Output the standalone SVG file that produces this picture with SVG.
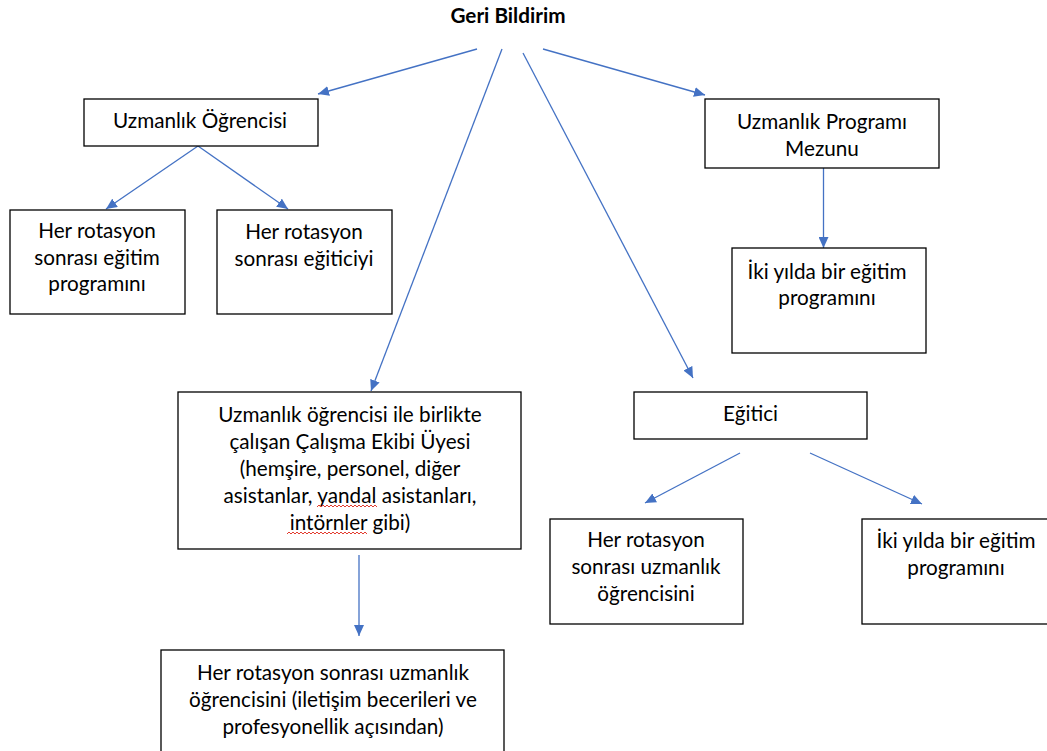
<svg xmlns="http://www.w3.org/2000/svg" width="1047" height="751" viewBox="0 0 1047 751">
<style>
.box{fill:#fff;stroke:#000;stroke-width:1.3}
.t{font-family:Lato,"Open Sans","Liberation Sans",sans-serif;font-size:20.7px;fill:#000;text-anchor:middle}
.title{font-weight:bold}
.c{stroke:#4472C4;stroke-width:1.3;fill:none}
.wave{stroke:#e23b2e;stroke-width:1;fill:none}
</style>
<defs>
<marker id="ah" markerUnits="userSpaceOnUse" markerWidth="12" markerHeight="10" refX="11" refY="5" orient="auto">
<path d="M0,0 L11,5 L0,10 Z" fill="#4472C4"/>
</marker>
</defs>
<rect width="1047" height="751" fill="#fff"/>
<g id="title"><text class="t title" x="508" y="23">Geri Bildirim</text></g>
<g id="connectors">
<line class="c" x1="477" y1="49" x2="318" y2="94" marker-end="url(#ah)"/>
<line class="c" x1="502" y1="49" x2="371" y2="391" marker-end="url(#ah)"/>
<line class="c" x1="523" y1="53" x2="693" y2="378" marker-end="url(#ah)"/>
<line class="c" x1="543" y1="49" x2="705" y2="95" marker-end="url(#ah)"/>
<line class="c" x1="198" y1="146" x2="106" y2="209" marker-end="url(#ah)"/>
<line class="c" x1="198" y1="146" x2="288" y2="209" marker-end="url(#ah)"/>
<line class="c" x1="823.5" y1="168" x2="823.5" y2="248" marker-end="url(#ah)"/>
<line class="c" x1="359" y1="555" x2="359" y2="636" marker-end="url(#ah)"/>
<line class="c" x1="740" y1="453" x2="645" y2="503" marker-end="url(#ah)"/>
<line class="c" x1="810" y1="453" x2="922" y2="504" marker-end="url(#ah)"/>
</g>
<g id="uzmanlik-ogrencisi">
<rect class="box" x="84" y="99" width="234" height="47"/>
<text class="t" x="200" y="128">Uzmanlık Öğrencisi</text>
</g>
<g id="rotasyon-egitim">
<rect class="box" x="10" y="210" width="175" height="104"/>
<text class="t" x="97" y="238">Her rotasyon</text>
<text class="t" x="97" y="265">sonrası eğitim</text>
<text class="t" x="97" y="291">programını</text>
</g>
<g id="rotasyon-egitici">
<rect class="box" x="217" y="210" width="175" height="104"/>
<text class="t" x="304" y="239">Her rotasyon</text>
<text class="t" x="304" y="266">sonrası eğiticiyi</text>
</g>
<g id="mezun">
<rect class="box" x="705" y="99" width="234" height="69"/>
<text class="t" x="822" y="129">Uzmanlık Programı</text>
<text class="t" x="822" y="156">Mezunu</text>
</g>
<g id="mezun-iki-yil">
<rect class="box" x="732" y="248" width="194" height="105"/>
<text class="t" x="827" y="279">İki yılda bir eğitim</text>
<text class="t" x="827" y="305">programını</text>
</g>
<g id="calisma-ekibi">
<rect class="box" x="178" y="392" width="343" height="157"/>
<text class="t" x="350" y="422">Uzmanlık öğrencisi ile birlikte</text>
<text class="t" x="350" y="449">çalışan Çalışma Ekibi Üyesi</text>
<text class="t" x="350" y="476">(hemşire, personel, diğer</text>
<text class="t" x="350" y="503">asistanlar, yandal asistanları,</text>
<text class="t" x="350" y="530">intörnler gibi)</text>
<path class="wave" d="M317,507 l2,-2 l2,2 l2,-2 l2,2 l2,-2 l2,2 l2,-2 l2,2 l2,-2 l2,2 l2,-2 l2,2 l2,-2 l2,2 l2,-2 l2,2 l2,-2 l2,2 l2,-2 l2,2 l2,-2 l2,2 l2,-2 l2,2 l2,-2 l2,2 l2,-2 l2,2 l2,-2 l2,2"/>
<path class="wave" d="M287,534 l2,-2 l2,2 l2,-2 l2,2 l2,-2 l2,2 l2,-2 l2,2 l2,-2 l2,2 l2,-2 l2,2 l2,-2 l2,2 l2,-2 l2,2 l2,-2 l2,2 l2,-2 l2,2 l2,-2 l2,2 l2,-2 l2,2 l2,-2 l2,2 l2,-2 l2,2 l2,-2 l2,2 l2,-2 l2,2 l2,-2 l2,2 l2,-2 l2,2 l2,-2 l2,2 l2,-2 l2,2"/>
</g>
<g id="calisma-rotasyon">
<rect class="box" x="161" y="650" width="343" height="120"/>
<text class="t" x="333" y="680">Her rotasyon sonrası uzmanlık</text>
<text class="t" x="333" y="707">öğrencisini (iletişim becerileri ve</text>
<text class="t" x="333" y="734">profesyonellik açısından)</text>
</g>
<g id="egitici">
<rect class="box" x="634" y="392" width="233" height="47"/>
<text class="t" x="750.5" y="421">Eğitici</text>
</g>
<g id="egitici-rotasyon">
<rect class="box" x="550" y="519" width="193" height="105"/>
<text class="t" x="646" y="547">Her rotasyon</text>
<text class="t" x="646" y="574">sonrası uzmanlık</text>
<text class="t" x="646" y="601">öğrencisini</text>
</g>
<g id="egitici-iki-yil">
<rect class="box" x="862" y="519" width="192" height="105"/>
<text class="t" x="956" y="548">İki yılda bir eğitim</text>
<text class="t" x="956" y="575">programını</text>
</g>
</svg>
